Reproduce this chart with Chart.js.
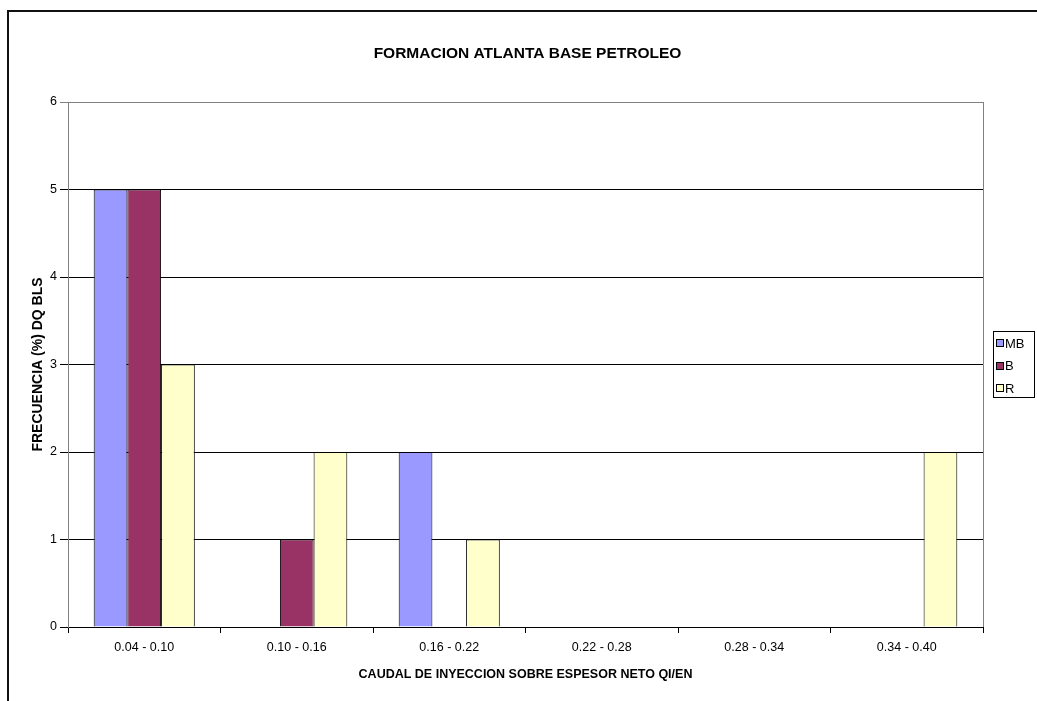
<!DOCTYPE html>
<html>
<head>
<meta charset="utf-8">
<script src="https://cdn.jsdelivr.net/npm/chart.js@4.4.0/dist/chart.umd.min.js"></script>
<style>
  html, body { margin: 0; padding: 0; background: #fff; }
  canvas { display: block; }
</style>
</head>
<body>
<canvas id="frecChart" width="1037" height="701"></canvas>
<script>
// rangos de caudal (eje X) y frecuencias por calificacion
const categories = ["0.04 - 0.10", "0.10 - 0.16", "0.16 - 0.22", "0.22 - 0.28", "0.28 - 0.34", "0.34 - 0.40"];
const seriesNames = ["MB", "B", "R"];
const valuesMB = [5, 0, 2, 0, 0, 0];
const valuesB = [5, 1, 0, 0, 0, 0];
const valuesR = [3, 2, 1, 0, 0, 2];
const yTicks = [0, 1, 2, 3, 4, 5, 6];
const seriesColors = ["#9999FF", "#993366", "#FFFFCC"];

const FONT = "Arial, 'Liberation Sans', sans-serif";

// fondo blanco, marco exterior y borde gris del area de trazado
const framePlugin = {
    id: "frame",
    beforeDraw(chart) {
        const ctx = chart.ctx;
        ctx.save();
        ctx.fillStyle = "#fff";
        ctx.fillRect(0, 0, chart.width, chart.height);
        ctx.restore();
    },
    afterDraw(chart) {
        const ctx = chart.ctx;
        const a = chart.chartArea;
        ctx.save();
        ctx.strokeStyle = "#808080";
        ctx.lineWidth = 1;
        ctx.beginPath();
        ctx.moveTo(Math.round(a.right) + 0.5, a.top);
        ctx.lineTo(Math.round(a.right) + 0.5, a.bottom);
        ctx.stroke();
        ctx.fillStyle = "#111";
        ctx.fillRect(7, 10, 2, chart.height - 10);
        ctx.fillRect(7, 10, chart.width - 7, 2);
        ctx.restore();
    }
};

// leyenda con recuadro, como en Excel
const boxLegend = {
    id: "boxLegend",
    afterDraw(chart) {
        const ctx = chart.ctx;
        const x = 993, y = 331, w = 41, h = 66;
        ctx.save();
        ctx.fillStyle = "#fff";
        ctx.fillRect(x, y, w, h);
        ctx.strokeStyle = "#000";
        ctx.lineWidth = 1;
        ctx.strokeRect(x + 0.5, y + 0.5, w, h);
        ctx.font = "13px " + FONT;
        ctx.textBaseline = "middle";
        chart.data.datasets.forEach((ds, i) => {
            const cy = 343 + i * 22.5;
            ctx.fillStyle = ds.backgroundColor;
            ctx.fillRect(997, Math.round(cy) - 3, 6, 6);
            ctx.strokeStyle = "#000";
            ctx.strokeRect(996.5, Math.round(cy) - 3.5, 7, 7);
            ctx.fillStyle = "#000";
            ctx.fillText(ds.label, 1005, cy + 1);
        });
        ctx.restore();
    }
};

const allValues = [valuesMB, valuesB, valuesR];

new Chart(document.getElementById("frecChart"), {
    type: "bar",
    data: {
        labels: categories,
        datasets: seriesNames.map((name, i) => ({
            label: name,
            data: allValues[i],
            backgroundColor: seriesColors[i],
            borderColor: "#000",
            borderWidth: 1,
            categoryPercentage: 0.663,
            barPercentage: 1.0,
        }))
    },
    options: {
        responsive: false,
        animation: false,
        devicePixelRatio: 1,
        layout: { padding: { left: 18, right: 0, top: 0, bottom: 0 } },
        plugins: {
            legend: { display: false },
            tooltip: { enabled: false },
            title: {
                display: true,
                text: "FORMACION ATLANTA BASE PETROLEO",
                color: "#000",
                font: { family: FONT, size: 15.5, weight: "bold" },
                padding: { top: 44, bottom: 39.4 },
            },
        },
        scales: {
            x: {
                afterFit(scale) { scale.height = 74; },
                grid: {
                    offset: true,
                    drawOnChartArea: false,
                    drawTicks: true,
                    tickLength: 6,
                    color: "#000",
                },
                border: { color: "#000", width: 1 },
                ticks: {
                    color: "#000",
                    font: { family: FONT, size: 12.5 },
                    padding: 7,
                    maxRotation: 0,
                },
                title: {
                    display: true,
                    text: "CAUDAL DE INYECCION SOBRE ESPESOR NETO QI/EN",
                    color: "#000",
                    font: { family: FONT, size: 12.5, weight: "bold" },
                    padding: { top: 0, bottom: 19 },
                },
            },
            y: {
                min: yTicks[0],
                max: yTicks[yTicks.length - 1],
                afterFit(scale) { scale.width = 50; },
                afterBuildTicks(scale) { scale.ticks = yTicks.map(v => ({ value: v })); },
                grid: {
                    color: c => (c.tick && c.tick.value === 6 ? "#808080" : "#000"),
                    tickLength: 8,
                    drawTicks: true,
                },
                border: { color: "#808080", width: 1 },
                ticks: {
                    color: "#000",
                    font: { family: FONT, size: 12.5 },
                    padding: 3,
                },
                title: {
                    display: true,
                    text: "FRECUENCIA (%) DQ BLS",
                    color: "#000",
                    font: { family: FONT, size: 14, weight: "bold" },
                    padding: { top: 11.5, bottom: 0 },
                },
            },
            // espacio a la derecha reservado para la leyenda
            yLegendSpace: {
                position: "right",
                display: true,
                afterFit(scale) { scale.width = 54; },
                grid: { display: false, drawTicks: false },
                border: { display: false },
                ticks: { display: false },
            },
        },
    },
    plugins: [framePlugin, boxLegend],
});
</script>
</body>
</html>
